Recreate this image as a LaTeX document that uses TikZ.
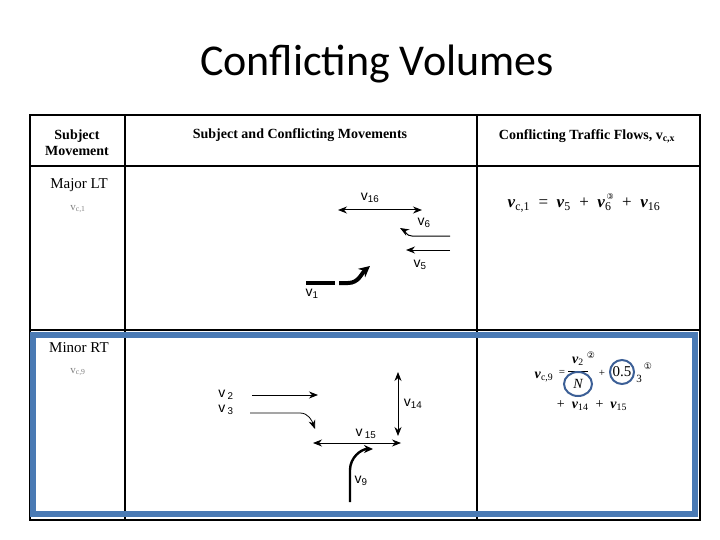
\documentclass[tikz,border=0pt]{standalone}
\usepackage{fontspec}
\setmainfont{Liberation Serif}
\newfontfamily\calfont{Carlito}
\newfontfamily\dvfont{DejaVu Sans}
\newfontfamily\lsans{Liberation Sans}
\usetikzlibrary{arrows.meta}
\definecolor{blu}{RGB}{74,122,180}
\definecolor{cb}{RGB}{60,95,150}
\newcommand{\vv}[1]{\textbf{\textit{v}}\textsubscript{#1}}
\begin{document}
\begin{tikzpicture}[x=1pt,y=-1pt,
  rule/.style={line width=1.4pt},
  arr/.style={-{Stealth[length=9pt,width=7pt]},line width=1pt},
  darr/.style={{Stealth[length=9pt,width=7pt]}-{Stealth[length=9pt,width=7pt]},line width=1pt},
  lab/.style={font=\lsans\fontsize{14}{15}\selectfont,inner sep=0pt},
  hdr/.style={font=\bfseries\fontsize{14}{16}\selectfont,align=center,inner sep=0pt},
  row/.style={font=\fontsize{15}{16}\selectfont,inner sep=0pt},
  fm/.style={font=\fontsize{17}{18}\selectfont,inner sep=0pt},
  ring/.style={draw=cb,line width=2pt}]
\useasboundingbox (0,0) rectangle (720,540);
\node (title) at (377,64) {\calfont\fontsize{44}{46}\selectfont Conflicting Volumes};
% table
\draw[rule] (30,115) rectangle (700,520);
\draw[rule] (125,115) -- (125,520);
\draw[rule] (477,115) -- (477,520);
\draw[rule] (30,166) -- (700,166);
\draw[rule] (30,330) -- (700,330);
\node[hdr] (h1) at (77,143) {Subject\\Movement};
\node[hdr] (h2) at (300,135) {Subject and Conflicting Movements};
\node[hdr] (h3) at (587,136) {Conflicting Traffic Flows, v\textsubscript{c,x}};
% major LT
\node[row] (m1) at (79,185) {Major LT};
\node[row,font=\fontsize{11}{12}\selectfont,gray] (m1v) at (78,209) {v\textsubscript{c,1}};
\coordinate (a16) at (338,210); \coordinate (b16) at (422,210);
\draw[darr] (a16) -- (b16);
\node[lab] (l16) at (370,198) {v\textsubscript{16}};
\coordinate (a6) at (450,236); \coordinate (b6) at (400,228);
\draw[arr] (a6) -- (412,236) to[out=180,in=-30] (b6);
\node[lab] (l6) at (424,223) {v\textsubscript{6}};
\coordinate (a5) at (450,250); \coordinate (b5) at (406,250);
\draw[arr] (a5) -- (b5);
\node[lab] (l5) at (420,265) {v\textsubscript{5}};
\coordinate (a1) at (306,283); \coordinate (b1) at (370,266);
\draw[line width=4pt] (a1) -- (335,283);
\draw[-{Stealth[length=11pt,width=11pt]},line width=4pt] (339,283) -- (348,283) to[out=0,in=-140] (b1);
\node[lab] (l1) at (312,294) {v\textsubscript{1}};
\node[fm] (f1) at (584,203) {\vv{c,1}\ \ =\ \ \vv{5}\ \ +\ \ \vv{6}\kern-5pt\raisebox{8pt}{\dvfont\fontsize{8}{8}\selectfont ③}\ \ +\ \ \vv{16}};
% minor RT
\node[row] (m9) at (79,348) {Minor RT};
\node[row,font=\fontsize{11}{12}\selectfont,gray] (m9v) at (78,372) {v\textsubscript{c,9}};
\node[lab] (l2) at (226,395) {v\,\textsubscript{2}};
\node[lab] (l3) at (226,410) {v\,\textsubscript{3}};
\coordinate (a2) at (252,395); \coordinate (b2) at (318,395);
\draw[arr,line width=0.8pt] (a2) -- (b2);
\coordinate (a3) at (250,413); \coordinate (b3) at (315,429);
\draw[arr,line width=0.8pt] (a3) -- (300,413) to[out=0,in=110] (b3);
\coordinate (a15) at (313,443); \coordinate (b15) at (401,443);
\draw[darr,line width=0.8pt] (a15) -- (b15);
\node[lab] (l15) at (366,434) {v\,\textsubscript{15}};
\coordinate (a14) at (398,372); \coordinate (b14) at (398,436);
\draw[darr,line width=0.8pt] (a14) -- (b14);
\node[lab] (l14) at (413,404) {v\textsubscript{14}};
\coordinate (a9) at (350,502); \coordinate (b9) at (373,449);
\draw[-{Stealth[length=9pt,width=8pt]},line width=2.4pt] (a9) -- (350,470) to[out=90,in=180] (b9);
\node[lab] (l9) at (361,481) {v\textsubscript{9}};
\node[fm,font=\fontsize{14}{15}\selectfont] (f9a) at (544,377) {\vv{c,9}};
\node[font=\fontsize{11}{12}\selectfont] (eq) at (562,373) {=};
\node[fm,font=\fontsize{14}{15}\selectfont] (num) at (578,361) {\vv{2}};
\node[inner sep=0pt] (ci2) at (591,355) {\dvfont\fontsize{9}{9}\selectfont ②};
\draw[line width=1pt] (568,371) -- (588,371);
\node[font=\itshape\fontsize{14}{15}\selectfont] (den) at (578,384) {N};
\node[font=\fontsize{11}{12}\selectfont] (pl) at (602,373) {+};
\node[font=\fontsize{15}{16}\selectfont] (half) at (622,372) {0.5};
\node[font=\fontsize{11}{12}\selectfont] (v3s) at (639,379) {3};
\node[inner sep=0pt] (ci1) at (648,366) {\dvfont\fontsize{9}{9}\selectfont ①};
\node[fm,font=\fontsize{14}{15}\selectfont] (f9b) at (592,406) {+\ \ \vv{14}\ \ +\ \ \vv{15}};
\draw[ring] (den) ellipse (14pt and 12pt);
\draw[ring] (half) ellipse (12pt and 12pt);
\draw[draw=blu,line width=6pt] (33,335) rectangle (695,514);
\end{tikzpicture}
\end{document}
